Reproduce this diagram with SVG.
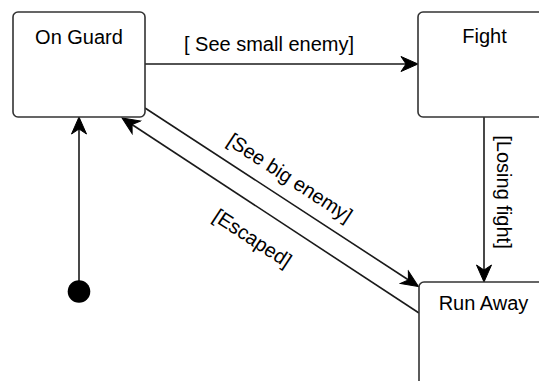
<svg xmlns="http://www.w3.org/2000/svg" width="539" height="381" viewBox="0 0 539 381">
  <style>
    .state { fill: #ffffff; stroke: #333333; stroke-width: 1.6; }
    .edge { fill: none; stroke: #1a1a1a; stroke-width: 1.6; }
    .label { font-family: "Liberation Sans", Arial, sans-serif; font-size: 20px; fill: #000000; text-anchor: middle; }
  </style>
  <defs>
    <!-- classic notched arrowhead; tip sits 10px beyond the line end -->
    <marker id="arrow" markerUnits="userSpaceOnUse" viewBox="-18 -9 19 18" refX="-10" refY="0" markerWidth="19" markerHeight="18" orient="auto">
      <path d="M0,0 L-17,-7.5 L-12,0 L-17,7.5 Z" fill="#000000" stroke="#000000" stroke-width="1" stroke-linejoin="miter"/>
    </marker>
  </defs>

  <rect width="539" height="381" fill="#ffffff"/>

  <g id="connectors">
    <!-- initial pseudo-state to On Guard -->
    <line class="edge" x1="79" y1="285" x2="79" y2="127" marker-end="url(#arrow)"/>
    <!-- On Guard -> Fight -->
    <line class="edge" x1="145" y1="64" x2="408" y2="64" marker-end="url(#arrow)"/>
    <!-- Fight -> Run Away -->
    <line class="edge" x1="484" y1="117" x2="484" y2="272" marker-end="url(#arrow)"/>
    <!-- On Guard -> Run Away -->
    <line class="edge" x1="145" y1="108" x2="410.1" y2="281" marker-end="url(#arrow)"/>
    <!-- Run Away -> On Guard -->
    <line class="edge" x1="419" y1="313" x2="130.4" y2="123.5" marker-end="url(#arrow)"/>

    <text class="label" x="269" y="50.5">[ See small enemy]</text>
    <text class="label" transform="translate(290 177.5) rotate(33.2)" y="7">[See big enemy]</text>
    <text class="label" transform="translate(252.5 238) rotate(33.3)" y="7">[Escaped]</text>
    <text class="label" transform="translate(504 192) rotate(90)" y="7">[Losing fight]</text>
  </g>

  <g id="initial">
    <circle cx="79" cy="291.5" r="11.3" fill="#000000"/>
  </g>

  <g id="on-guard">
    <rect class="state" x="13" y="12" width="132" height="105" rx="5" ry="5"/>
    <text class="label" x="79" y="43.5">On Guard</text>
  </g>

  <g id="fight">
    <rect class="state" x="418" y="12" width="133" height="105" rx="5" ry="5"/>
    <text class="label" x="484.5" y="43">Fight</text>
  </g>

  <g id="run-away">
    <rect class="state" x="419" y="282" width="132" height="105" rx="5" ry="5"/>
    <text class="label" x="483.5" y="309.5">Run Away</text>
  </g>
</svg>
